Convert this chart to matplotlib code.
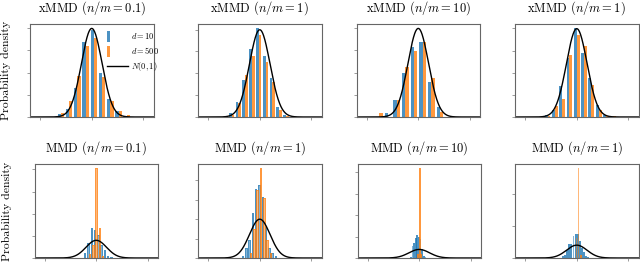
import numpy as np
import matplotlib
matplotlib.use("Agg")
import matplotlib.pyplot as plt
import matplotlib.patches as mpatches
from matplotlib.legend_handler import HandlerPatch

plt.rcParams['font.family'] = 'serif'
plt.rcParams['font.serif'] = ['cmr10', 'DejaVu Serif']
plt.rcParams['mathtext.fontset'] = 'cm'
plt.rcParams['axes.formatter.use_mathtext'] = True

# ---- data ----
top_titles = [r"xMMD ($n/m=0.1$)", r"xMMD ($n/m=1$)", r"xMMD ($n/m=10$)", r"xMMD ($n/m=1$)"]
bottom_titles = [r"MMD ($n/m=0.1$)", r"MMD ($n/m=1$)", r"MMD ($n/m=10$)", r"MMD ($n/m=1$)"]

# histogram bins: first edge and bin width per panel
top_bin_start = [-3.4, -3.73, -4.19, -3.195]
top_bin_width = [0.8, 0.66, 0.84, 0.71]
bottom_bin_start = [-1.21, -1.76, -0.92, -1.42]
bottom_bin_width = [0.32, 0.32, 0.16, 0.2]

# y tick spacing per bottom panel (top row uses 0.1)
bottom_ytick_step = [0.5, 0.2, 1.0, 1.0]

# densities, d = 10
top_d10 = [
    [0.015, 0.035, 0.13, 0.34, 0.39, 0.20, 0.08, 0.025, 0.0],
    [0.0, 0.02, 0.07, 0.17, 0.31, 0.405, 0.28, 0.18, 0.045, 0.01],
    [0.0, 0.018, 0.075, 0.20, 0.315, 0.337, 0.157, 0.045],
    [0.01, 0.03, 0.14, 0.265, 0.40, 0.29, 0.175, 0.055, 0.01, 0.0],
]
bottom_d10 = [
    [0.11, 0.34, 0.68, 0.64, 0.53, 0.30, 0.17, 0.05, 0.03],
    [0.02, 0.10, 0.19, 0.46, 0.71, 0.755, 0.63, 0.32, 0.10, 0.05, 0.02],
    [0.05, 0.55, 0.70, 0.94, 1.05, 1.0, 0.90, 0.40, 0.10, 0.05],
    [0.05, 0.10, 0.24, 0.42, 0.45, 0.68, 0.73, 0.75, 0.52, 0.31, 0.18, 0.07, 0.02],
]
# densities, d = 500
top_d500 = [
    [0.02, 0.07, 0.185, 0.32, 0.355, 0.18, 0.07, 0.025, 0.01],
    [0.005, 0.01, 0.065, 0.19, 0.28, 0.375, 0.25, 0.16, 0.03, 0.005],
    [0.018, 0.0, 0.075, 0.225, 0.295, 0.34, 0.175, 0.022],
    [0.005, 0.048, 0.08, 0.28, 0.37, 0.32, 0.145, 0.033, 0.005, 0.005],
]
bottom_d500 = [
    [0.0, 0.1, 0.3, 2.02, 0.68, 0.05, 0.0, 0.0, 0.0],
    [0.0, 0.0, 0.05, 0.30, 0.70, 0.92, 0.62, 0.19, 0.05, 0.0, 0.0],
    [0.0, 0.0, 0.0, 0.0, 0.2, 4.17, 0.2, 0.0, 0.0, 0.0],
    [0.0, 0.0, 0.0, 0.0, 0.0, 0.0, 0.63, 2.78, 0.1, 0.0, 0.0, 0.0, 0.0],
]

blue = '#1f77b4'
orange = '#ff7f0e'

fig = plt.figure(figsize=(6.4, 2.65), dpi=100)
W, H = 640.0, 265.0

top_left_px = [30, 198, 356.5, 515]
bottom_left_px = [34.5, 198, 357.5, 515]
ax_w = 123.5


def narrow_patch(legend, orig_handle, xdescent, ydescent, width, height, fontsize):
    return mpatches.Rectangle((-xdescent, -ydescent - 0.45 * height), 0.16 * width, 1.9 * height)


def draw_panel(ax, start, width, d10, d500, title, ystep, thin=False):
    edges = start + width * np.arange(len(d10) + 1)
    centers = 0.5 * (edges[:-1] + edges[1:])
    _, _, patches = ax.hist([centers, centers], bins=edges, weights=[d10, d500],
                            color=[blue, orange], alpha=0.55 if thin else 0.8,
                            rwidth=0.9 if thin else 0.8,
                            label=['$d=10$', '$d=500$'])
    if thin:
        # bars about one pixel wide: draw them crisp so they stay visible
        for group, c in zip(patches, [blue, orange]):
            for p in group:
                p.set_edgecolor(c)
                p.set_linewidth(0.4)
                p.set_antialiased(False)
    xs = np.linspace(-6, 6, 400)
    line, = ax.plot(xs, np.exp(-xs ** 2 / 2) / np.sqrt(2 * np.pi), color='black', lw=1.0,
                    label='$N(0,1)$')
    ax.set_xlim(-6, 6)
    ax.set_xticks([-5, 0, 5])
    ax.set_xticklabels([])
    ax.yaxis.set_major_locator(plt.MultipleLocator(ystep))
    ax.set_yticklabels([])
    ax.tick_params(length=2.5, width=0.6, color='0.55')
    for s in ax.spines.values():
        s.set_color('0.4')
        s.set_linewidth(0.8)
    ax.set_title(title, fontsize=9, pad=9)
    return patches, line


for i in range(4):
    ax = fig.add_axes([top_left_px[i] / W, (H - 117) / H, ax_w / W, 93 / H])
    patches, line = draw_panel(ax, top_bin_start[i], top_bin_width[i], top_d10[i], top_d500[i],
                               top_titles[i], 0.1)
    if i == 0:
        ax.set_ylabel('Probability density', fontsize=8.5)
        ax.yaxis.set_label_coords(-0.15, 0.5)
        h10 = patches[0][0]
        h500 = patches[1][0]
        ax.legend([h10, h500, line], ['$d=10$', '$d=500$', '$N(0,1)$'],
                  handler_map={h10: HandlerPatch(patch_func=narrow_patch),
                               h500: HandlerPatch(patch_func=narrow_patch)},
                  loc='upper left', bbox_to_anchor=(0.62, 0.92), frameon=False,
                  fontsize=6, handlelength=2.6, handletextpad=0.3,
                  labelspacing=0.45, borderpad=0.0, borderaxespad=0.0)

for i in range(4):
    ax = fig.add_axes([bottom_left_px[i] / W, (H - 258) / H, ax_w / W, 94 / H])
    draw_panel(ax, bottom_bin_start[i], bottom_bin_width[i], bottom_d10[i], bottom_d500[i],
               bottom_titles[i], bottom_ytick_step[i], thin=True)
    if i == 0:
        ax.set_ylabel('Probability density', fontsize=8.5)
        ax.yaxis.set_label_coords(-0.18, 0.5)

fig.savefig('out.png', dpi=100)
